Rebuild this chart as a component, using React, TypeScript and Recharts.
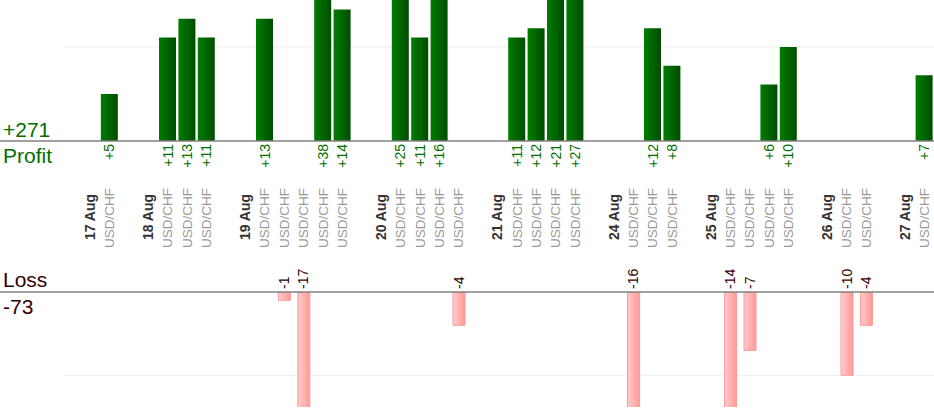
import React from "react";
import {
  BarChart,
  Bar,
  XAxis,
  YAxis,
  CartesianGrid,
} from "recharts";

const days = ["17 Aug", "18 Aug", "19 Aug", "20 Aug", "21 Aug", "24 Aug", "25 Aug", "26 Aug", "27 Aug"];
const tradesPerDay = [1, 3, 5, 4, 4, 3, 4, 2, 1];
const tradeSymbol = "USD/CHF";
const tradeResults = [
  5,
  11, 13, 11,
  13, -1, -17, 38, 14,
  25, 11, 16, -4,
  11, 12, 21, 27,
  -16, 12, 8,
  -14, -7, 6, 10,
  -10, -4,
  7,
];
const profitDomain = [0, 15];
const lossDomain = [-13.8, 0];
const profitTicks = [10];
const lossTicks = [-10];

type Slot = {
  id: string;
  kind: "gap" | "date" | "trade";
  label: string;
  result: number | null;
  profit: number | null;
  loss: number | null;
};

// one empty slot and one date slot in front of every day's trades
const slots: Slot[] = [];
let cursor = 0;
days.forEach((day, d) => {
  slots.push({ id: `gap-${d}`, kind: "gap", label: "", result: null, profit: null, loss: null });
  slots.push({ id: `date-${d}`, kind: "date", label: day, result: null, profit: null, loss: null });
  for (let t = 0; t < tradesPerDay[d]; t++) {
    const v = tradeResults[cursor];
    slots.push({
      id: `trade-${cursor}`,
      kind: "trade",
      label: tradeSymbol,
      result: v,
      profit: v > 0 ? v : null,
      loss: v < 0 ? v : null,
    });
    cursor++;
  }
});
const slotById = new Map(slots.map((s) => [s.id, s]));

const totalProfit = tradeResults.filter((v) => v > 0).reduce((a, b) => a + b, 0);
const totalLoss = tradeResults.filter((v) => v < 0).reduce((a, b) => a + b, 0);

const FONT = "'Liberation Sans', Arial, sans-serif";
const GREEN = "#006f00";
const BROWN = "#330000";

// grid rows only at the given ticks (the default grid also drew the plot edge)
const gridRows = (ticks: number[], domain: number[]) => (args: any) => {
  const { offset } = args;
  const [lo, hi] = domain;
  return ticks.map((t) => offset.top + (offset.height * (hi - t)) / (hi - lo));
};

function ProfitTick(props: any) {
  const { x, y, payload } = props;
  const s = slotById.get(payload.value);
  if (!s || s.kind === "gap") return null;
  if (s.kind === "date") {
    return (
      <text
        x={x}
        y={y + 76}
        dy="0.35em"
        transform={`rotate(-90 ${x} ${y + 76})`}
        textAnchor="middle"
        fontFamily={FONT}
        fontSize={14}
        fontWeight="bold"
        fill="#333"
      >
        {s.label}
      </text>
    );
  }
  return (
    <g>
      {s.profit !== null && (
        <text
          x={x}
          y={y + 3}
          dy="0.35em"
          transform={`rotate(-90 ${x} ${y + 3})`}
          textAnchor="end"
          fontFamily={FONT}
          fontSize={14}
          fill={GREEN}
        >
          {`+${s.profit}`}
        </text>
      )}
      <text
        x={x}
        y={y + 77}
        dy="0.35em"
        transform={`rotate(-90 ${x} ${y + 77})`}
        textAnchor="middle"
        fontFamily={FONT}
        fontSize={13.5}
        fill="#999"
      >
        {s.label}
      </text>
    </g>
  );
}

function LossTick(props: any) {
  const { x, y, payload } = props;
  const s = slotById.get(payload.value);
  if (!s || s.loss === null) return null;
  return (
    <text
      x={x}
      y={y - 3}
      dy="0.35em"
      transform={`rotate(-90 ${x} ${y - 3})`}
      textAnchor="start"
      fontFamily={FONT}
      fontSize={14}
      fill={BROWN}
    >
      {`${s.loss}`}
    </text>
  );
}

export default function App() {
  return (
    <div style={{ position: "absolute", left: 0, top: 0, width: 934, height: 420, fontFamily: FONT }}>
      <div style={{ position: "absolute", left: 0, top: 0 }}>
        <BarChart
          width={934}
          height={260}
          data={slots}
          margin={{ top: 0, right: 0, bottom: 0, left: 0 }}
        >
          <defs>
            <linearGradient id="profitFill" x1="0" y1="0" x2="1" y2="0">
              <stop offset="0%" stopColor="#007d00" />
              <stop offset="100%" stopColor="#004c00" />
            </linearGradient>
          </defs>
          <CartesianGrid
            vertical={false}
            stroke="#eeeeee"
            x={63}
            width={871}
            horizontalCoordinatesGenerator={gridRows(profitTicks, profitDomain)}
          />
          <XAxis
            dataKey="id"
            interval={0}
            height={119}
            padding={{ left: 61, right: 0 }}
            tickLine={false}
            tickSize={0}
            tickMargin={0}
            axisLine={{ stroke: "#808080", strokeWidth: 1.5 }}
            tick={<ProfitTick />}
          />
          <YAxis hide domain={profitDomain} ticks={profitTicks} allowDataOverflow />
          <Bar dataKey="profit" fill="url(#profitFill)" barSize={17} isAnimationActive={false} />
        </BarChart>
      </div>
      <div style={{ position: "absolute", left: 0, top: 260 }}>
        <BarChart
          width={934}
          height={160}
          data={slots}
          margin={{ top: 0, right: 0, bottom: 13, left: 0 }}
        >
          <defs>
            <linearGradient id="lossFill" x1="0" y1="0" x2="1" y2="0">
              <stop offset="0%" stopColor="#ffcccc" />
              <stop offset="100%" stopColor="#ff9999" />
            </linearGradient>
          </defs>
          <CartesianGrid
            vertical={false}
            stroke="#eeeeee"
            x={63}
            width={871}
            horizontalCoordinatesGenerator={gridRows(lossTicks, lossDomain)}
          />
          <XAxis
            dataKey="id"
            orientation="top"
            interval={0}
            height={32}
            padding={{ left: 61, right: 0 }}
            tickLine={false}
            tickSize={0}
            tickMargin={0}
            axisLine={{ stroke: "#808080", strokeWidth: 1.5 }}
            tick={<LossTick />}
          />
          <YAxis hide domain={lossDomain} ticks={lossTicks} allowDataOverflow />
          <Bar
            dataKey="loss"
            fill="url(#lossFill)"
            stroke="#ff9999"
            strokeWidth={1}
            barSize={12}
            isAnimationActive={false}
          />
        </BarChart>
      </div>
      <svg
        width={934}
        height={420}
        style={{ position: "absolute", left: 0, top: 0, pointerEvents: "none" }}
      >
        <text x={3} y={137} fontFamily={FONT} fontSize={21} fill={GREEN}>
          {`+${totalProfit}`}
        </text>
        <text x={3} y={163} fontFamily={FONT} fontSize={21} fill={GREEN}>
          Profit
        </text>
        <text x={3} y={287} fontFamily={FONT} fontSize={21} fill={BROWN}>
          Loss
        </text>
        <text x={3} y={314} fontFamily={FONT} fontSize={21} fill={BROWN}>
          {`${totalLoss}`}
        </text>
      </svg>
    </div>
  );
}
